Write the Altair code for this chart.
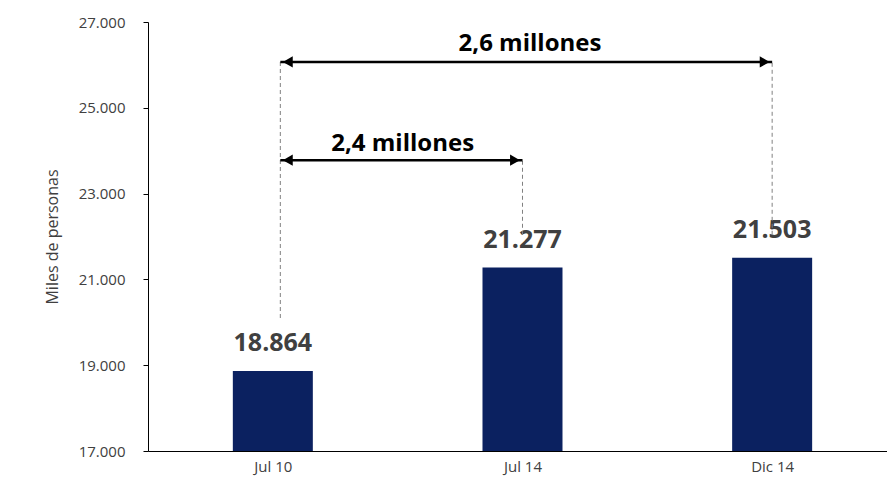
import altair as alt
import pandas as pd

cats = ["Jul  10", "Jul  14", "Dic  14"]
vals = [18864, 21277, 21503]
labels = ["18.864", "21.277", "21.503"]

bars_df = pd.DataFrame({"i": [0, 1, 2], "v": vals, "lab": labels})
dash_df = pd.DataFrame({"i": [0.03, 1.0, 2.0], "y1": [20100, 22040, 22040], "y2": [26070, 23780, 26070]})
arr_df = pd.DataFrame({"a": [0.03, 0.03], "b": [2.0, 1.0], "m": [1.03, 0.52], "y": [26070, 23780],
                       "t": ["2,6 millones", "2,4 millones"], "ty": [26480, 24150]})
heads_df = pd.DataFrame({"i": [0.06, 1.97, 0.06, 0.97], "y": [26070, 26070, 23780, 23780],
                         "s": ["triangle-left", "triangle-right", "triangle-left", "triangle-right"]})

xsc = alt.Scale(domain=[-0.48, 2.44], nice=False, zero=False)
ysc = alt.Scale(domain=[17000, 27000], nice=False)
xax = alt.Axis(values=[0, 1, 2], labelExpr="['Jul  10','Jul  14','Dic  14'][datum.value]", grid=False,
               ticks=False, domainColor="black", labelFontSize=15, labelColor="#404040", labelPadding=8,
               labelFont="Open Sans")
yax = alt.Axis(values=[17000, 19000, 21000, 23000, 25000, 27000], grid=False,
               domainColor="black", tickColor="black", labelFontSize=15, labelColor="#404040",
               titleFontSize=16, titleFontWeight="normal", titleColor="#404040", labelPadding=18, titlePadding=18,
               labelFont="Open Sans", titleFont="Open Sans",
               labelExpr="replace(format(datum.value, ',.0f'), ',', '.')")

bars = alt.Chart(bars_df).mark_bar(size=80, color="#0b2160", clip=True).encode(
    x=alt.X("i:Q", scale=xsc, axis=xax, title=None),
    y=alt.Y("v:Q", scale=ysc, axis=yax, title="Miles de personas"),
    y2=alt.datum(17000))
txt = alt.Chart(bars_df).mark_text(dy=-28, fontSize=25, fontWeight="bold", color="#404040", font="Open Sans").encode(
    x=alt.X("i:Q", scale=xsc), y=alt.Y("v:Q", scale=ysc), text="lab")
dash = alt.Chart(dash_df).mark_rule(strokeDash=[4, 3], color="#808080", strokeWidth=1).encode(
    x=alt.X("i:Q", scale=xsc), y=alt.Y("y1:Q", scale=ysc), y2="y2")
arr = alt.Chart(arr_df).mark_rule(color="black", strokeWidth=2.5).encode(
    x=alt.X("a:Q", scale=xsc), x2="b", y=alt.Y("y:Q", scale=ysc))
atxt = alt.Chart(arr_df).mark_text(fontSize=24, fontWeight="bold", color="black", font="Open Sans").encode(
    x=alt.X("m:Q", scale=xsc), y=alt.Y("ty:Q", scale=ysc), text="t")
heads = alt.Chart(heads_df).mark_point(filled=True, color="black", size=130, opacity=1).encode(
    x=alt.X("i:Q", scale=xsc), y=alt.Y("y:Q", scale=ysc), shape=alt.Shape("s:N", scale=None))

chart = alt.layer(bars, txt, dash, arr, heads, atxt).properties(
    width=739, height=429, autosize=alt.AutoSizeParams(type="none"),
    padding={"left": 140, "top": 14, "right": 0, "bottom": 34}
).configure_view(stroke=None)

chart.save("out.html", embed_options={"renderer": "svg", "actions": False})
